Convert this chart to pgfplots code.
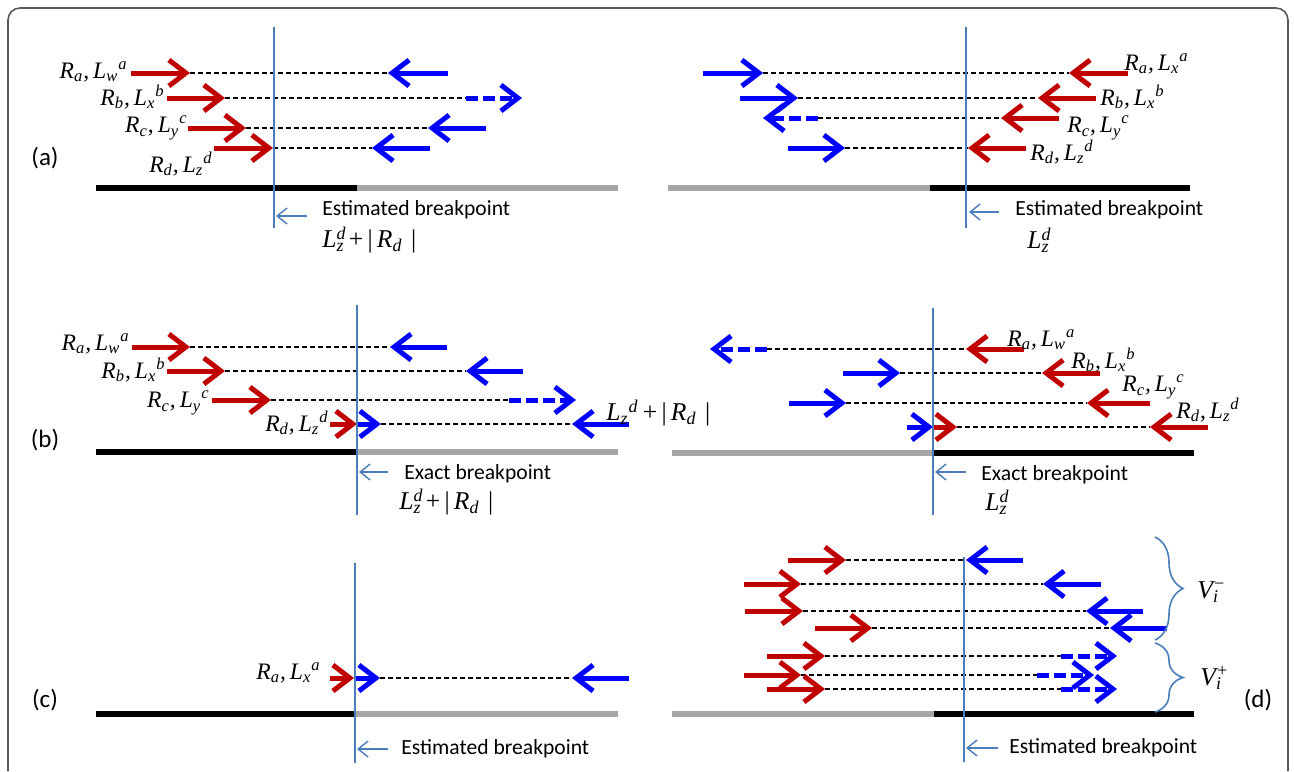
\documentclass[border=0pt]{standalone}
\usepackage{pgfplots}
\pgfplotsset{compat=1.18}
\usepackage{fontspec}
\setmainfont{Carlito}
\newfontfamily\tms{Liberation Serif}
\usetikzlibrary{arrows.meta,decorations.pathreplacing}
\definecolor{myred}{HTML}{C00000}
\definecolor{myblue}{HTML}{0000FF}
\definecolor{lineblue}{HTML}{4A7EBB}
\definecolor{barg}{HTML}{A6A6A6}
\definecolor{frame}{HTML}{595959}
\newcommand{\RL}[4]{#1\textsubscript{#2},\,L\textsubscript{#3}\textsuperscript{#4}}
\newcommand{\Lst}[2]{L\rlap{\textsuperscript{#1}}\textsubscript{#2}}
\tikzset{
 ra/.style={draw=myred, line width=2.5pt, -{Straight Barb[length=8.5pt,width=13pt]}},
 ba/.style={draw=myblue, line width=2.5pt, -{Straight Barb[length=8.5pt,width=13pt]}},
 bd/.style={ba, dash pattern=on 6pt off 2.5pt},
 dl/.style={draw=black, line width=0.75pt, dash pattern=on 2.5pt off 1.5pt},
 vl/.style={draw=lineblue, line width=0.7pt},
 ann/.style={draw=lineblue, line width=0.7pt, -{Straight Barb[length=5pt,width=8pt]}},
 kb/.style={draw=black, line width=2.6pt},
 gb/.style={draw=barg, line width=2.6pt},
 lab/.style={inner sep=0pt, font=\tms\itshape\fontsize{11.8}{13}\selectfont},
 txt/.style={inner sep=0pt, anchor=west, font=\fontsize{10.8}{12}\selectfont},
 pan/.style={inner sep=0pt, font=\fontsize{12.5}{14}\selectfont},
 ltx/.style={inner sep=0pt, anchor=west, font=\tms\fontsize{12.8}{14}\selectfont},
}
\begin{document}
\begin{tikzpicture}
\begin{axis}[
  width=647pt, height=385.5pt, scale only axis,
  xmin=0, xmax=1294, ymin=0, ymax=771, y dir=reverse,
  hide axis, clip=false]
% frame
\addplot[draw=frame, line width=0.8pt, rounded corners=6pt] coordinates {(8,771) (8,8) (1288,8) (1288,771)};
% ---------------- panel (a) left
\addplot[ra] coordinates {(131,73) (190,73)};
\addplot[dl] coordinates {(190,73) (389,73)};
\addplot[ba] coordinates {(448,73) (388,73)};
\addplot[ra] coordinates {(167,98) (225,98)};
\addplot[dl] coordinates {(225,98) (466,98)};
\addplot[bd] coordinates {(466,98) (522,98)};
\addplot[ra] coordinates {(188,128) (246,128)};
\addplot[dl] coordinates {(246,128) (430,128)};
\addplot[ba] coordinates {(486,128) (428,128)};
\addplot[ra] coordinates {(214,148) (273,148)};
\addplot[dl] coordinates {(273,148) (372,148)};
\addplot[ba] coordinates {(430,148) (372,148)};
\addplot[kb] coordinates {(96,188) (357,188)};
\addplot[gb] coordinates {(357,188) (618,188)};
\addplot[vl] coordinates {(274,27) (274,228)};
\addplot[ann] coordinates {(307,216) (276,216)};
% ---------------- panel (a) right
\addplot[ba] coordinates {(703,73) (763,73)};
\addplot[dl] coordinates {(763,73) (1069,73)};
\addplot[ra] coordinates {(1128,73) (1069,73)};
\addplot[ba] coordinates {(740,98) (798,98)};
\addplot[dl] coordinates {(798,98) (1038,98)};
\addplot[ra] coordinates {(1096,98) (1038,98)};
\addplot[bd] coordinates {(818,118) (763,118)};
\addplot[dl] coordinates {(818,118) (1001,118)};
\addplot[ra] coordinates {(1059,118) (1001,118)};
\addplot[ba] coordinates {(788,148) (845,148)};
\addplot[dl] coordinates {(845,148) (968,148)};
\addplot[ra] coordinates {(1026,148) (968,148)};
\addplot[gb] coordinates {(668,188) (930,188)};
\addplot[kb] coordinates {(930,188) (1190,188)};
\addplot[vl] coordinates {(966,27) (966,228)};
\addplot[ann] coordinates {(999,212) (969,212)};
% ---------------- panel (b) left
\addplot[ra] coordinates {(132,347) (190,347)};
\addplot[dl] coordinates {(190,347) (390,347)};
\addplot[ba] coordinates {(447,347) (390,347)};
\addplot[ra] coordinates {(167,371) (225,371)};
\addplot[dl] coordinates {(225,371) (466,371)};
\addplot[ba] coordinates {(523,371) (466,371)};
\addplot[ra] coordinates {(212,400) (271,400)};
\addplot[dl] coordinates {(271,400) (509,400)};
\addplot[bd] coordinates {(509,400) (576,400)};
\addplot[ra] coordinates {(330,424) (357,424)};
\addplot[ba] coordinates {(357,424) (381,424)};
\addplot[dl] coordinates {(381,424) (572,424)};
\addplot[ba] coordinates {(629,424) (572,424)};
\addplot[kb] coordinates {(96,452) (357,452)};
\addplot[gb] coordinates {(357,452) (618,452)};
\addplot[vl] coordinates {(357,305) (357,515)};
\addplot[ann] coordinates {(388,472) (359,472)};
% ---------------- panel (b) right
\addplot[bd] coordinates {(767,349) (710,349)};
\addplot[dl] coordinates {(767,349) (966,349)};
\addplot[ra] coordinates {(1024,349) (966,349)};
\addplot[ba] coordinates {(843,373) (900,373)};
\addplot[dl] coordinates {(900,373) (1042,373)};
\addplot[ra] coordinates {(1100,373) (1042,373)};
\addplot[ba] coordinates {(789,403) (846,403)};
\addplot[dl] coordinates {(846,403) (1087,403)};
\addplot[ra] coordinates {(1150,403) (1087,403)};
\addplot[ba] coordinates {(907,427) (933,427)};
\addplot[ra] coordinates {(933,427) (957,427)};
\addplot[dl] coordinates {(957,427) (1150,427)};
\addplot[ra] coordinates {(1208,427) (1150,427)};
\addplot[gb] coordinates {(672,453) (933,453)};
\addplot[kb] coordinates {(933,453) (1194,453)};
\addplot[vl] coordinates {(933,308) (933,515)};
\addplot[ann] coordinates {(966,472) (935,472)};
% ---------------- panel (c)
\addplot[ra] coordinates {(330,678) (354,678)};
\addplot[ba] coordinates {(354,678) (380,678)};
\addplot[dl] coordinates {(380,678) (572,678)};
\addplot[ba] coordinates {(629,678) (572,678)};
\addplot[kb] coordinates {(96,714) (355,714)};
\addplot[gb] coordinates {(355,714) (618,714)};
\addplot[vl] coordinates {(355,563) (355,763)};
\addplot[ann] coordinates {(388,749) (357,749)};
% ---------------- panel (d)
\addplot[ra] coordinates {(788,560) (846,560)};
\addplot[dl] coordinates {(846,560) (966,560)};
\addplot[ba] coordinates {(1023,560) (966,560)};
\addplot[ra] coordinates {(744,584) (801,584)};
\addplot[dl] coordinates {(801,584) (1043,584)};
\addplot[ba] coordinates {(1101,584) (1043,584)};
\addplot[ra] coordinates {(745,611) (803,611)};
\addplot[dl] coordinates {(803,611) (1086,611)};
\addplot[ba] coordinates {(1143,611) (1086,611)};
\addplot[ra] coordinates {(815,628) (872,628)};
\addplot[dl] coordinates {(872,628) (1110,628)};
\addplot[ba] coordinates {(1167,628) (1110,628)};
\addplot[ra] coordinates {(767,656) (825,656)};
\addplot[dl] coordinates {(825,656) (1061,656)};
\addplot[bd] coordinates {(1061,656) (1117,656)};
\addplot[ra] coordinates {(744,675) (801,675)};
\addplot[dl] coordinates {(801,675) (1037,675)};
\addplot[bd] coordinates {(1037,675) (1094,675)};
\addplot[ra] coordinates {(767,689) (825,689)};
\addplot[dl] coordinates {(825,689) (1061,689)};
\addplot[bd] coordinates {(1061,689) (1117,689)};
\addplot[gb] coordinates {(672,714) (934,714)};
\addplot[kb] coordinates {(934,714) (1194,714)};
\addplot[vl] coordinates {(964,557) (964,762)};
\addplot[ann] coordinates {(998,748) (966,748)};
\addplot[draw=lineblue, line width=0.8pt, decorate, decoration={brace, amplitude=14pt}] coordinates {(1155,537) (1155,640)};
\addplot[draw=lineblue, line width=0.8pt, decorate, decoration={brace, amplitude=14pt}] coordinates {(1155,643) (1155,712)};
% ---------------- texts
\node[pan] at (45,158) {(a)};
\node[pan] at (45,440) {(b)};
\node[pan] at (45,700) {(c)};
\node[pan] at (1258,700) {(d)};
% (a) left labels
\node[lab, anchor=east] at (128,72) {\RL{R}{a}{w}{a}};
\node[lab, anchor=east] at (165,97) {\RL{R}{b}{x}{b}};
\node[lab, anchor=east] at (188,128) {\RL{R}{c}{y}{c}};
\node[lab, anchor=east] at (213,164) {\RL{R}{d}{z}{d}};
\node[txt] at (322,210) {Estimated breakpoint};
\node[ltx] at (322,240) {\itshape\Lst{d}{z}\upshape\,+\,|\,\itshape R\textsubscript{d}\upshape\,\,|};
% (a) right labels
\node[lab, anchor=west] at (1124,64) {\RL{R}{a}{x}{a}};
\node[lab, anchor=west] at (1100,97) {\RL{R}{b}{x}{b}};
\node[lab, anchor=west] at (1067,128) {\RL{R}{c}{y}{c}};
\node[lab, anchor=west] at (1030,152) {\RL{R}{d}{z}{d}};
\node[txt] at (1015,210) {Estimated breakpoint};
\node[ltx] at (1027,240) {\itshape\Lst{d}{z}};
% (b) left labels
\node[lab, anchor=east] at (130,344) {\RL{R}{a}{w}{a}};
\node[lab, anchor=east] at (166,370) {\RL{R}{b}{x}{b}};
\node[lab, anchor=east] at (210,403) {\RL{R}{c}{y}{c}};
\node[lab, anchor=east] at (329,423) {\RL{R}{d}{z}{d}};
\node[ltx] at (606,413) {\itshape L\textsubscript{z}\textsuperscript{d}\upshape\,+\,|\,\itshape R\textsubscript{d}\upshape\,\,|};
\node[txt] at (404,474) {Exact breakpoint};
\node[ltx] at (399,502) {\itshape\Lst{d}{z}\upshape\,+\,|\,\itshape R\textsubscript{d}\upshape\,\,|};
% (b) right labels
\node[lab, anchor=west] at (1007,340) {\RL{R}{a}{w}{a}};
\node[lab, anchor=west] at (1071,360) {\RL{R}{b}{x}{b}};
\node[lab, anchor=west] at (1122,387) {\RL{R}{c}{y}{c}};
\node[lab, anchor=west] at (1176,410) {\RL{R}{d}{z}{d}};
\node[txt] at (981,475) {Exact breakpoint};
\node[ltx] at (985,502) {\itshape\Lst{d}{z}};
% (c)
\node[lab, anchor=east] at (321,673) {\RL{R}{a}{x}{a}};
\node[txt] at (401,749) {Estimated breakpoint};
% (d)
\node[txt] at (1009,748) {Estimated breakpoint};
\node[ltx] at (1197,592) {\itshape V\rlap{\textsuperscript{−}}\textsubscript{i}};
\node[ltx] at (1200,678) {\itshape V\rlap{\textsuperscript{+}}\textsubscript{i}};
\end{axis}
\pgfresetboundingbox
\path (current axis.south west) rectangle (current axis.north east);
\end{tikzpicture}
\end{document}
